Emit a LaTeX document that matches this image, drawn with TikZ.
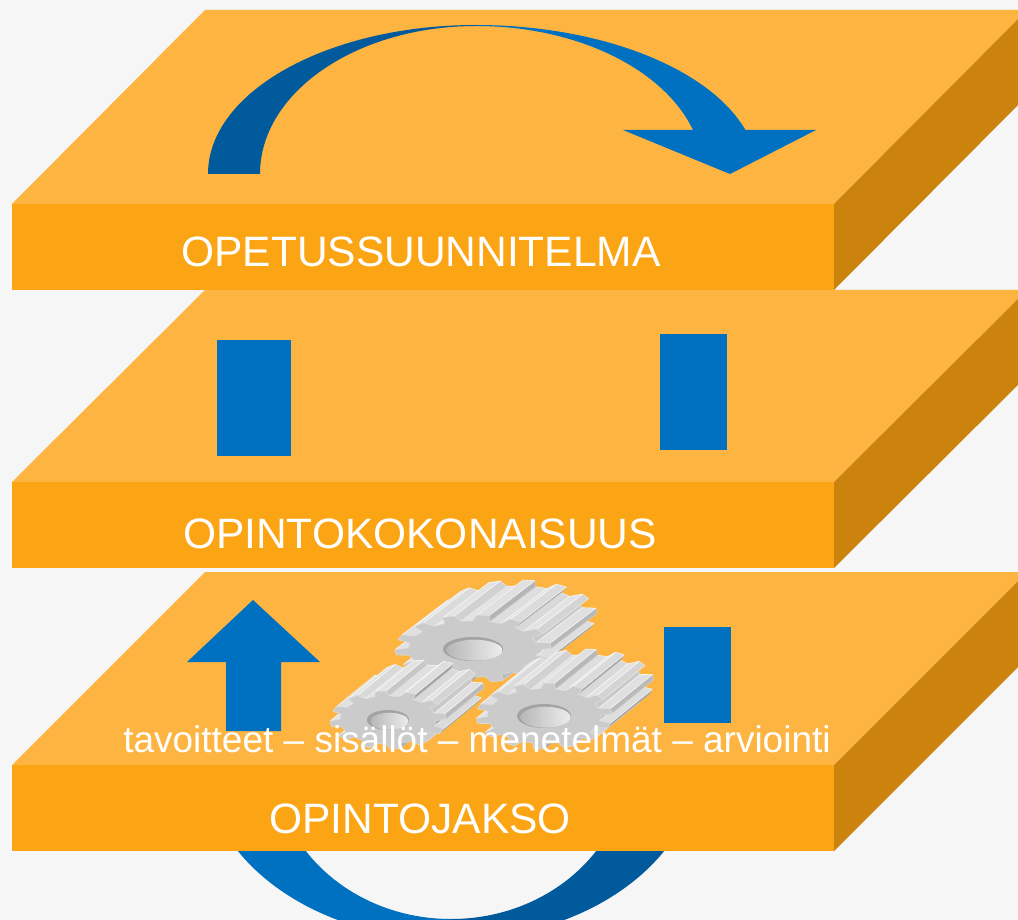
\documentclass[tikz,border=0pt]{standalone}
\usepackage{fontspec}
\setmainfont{Liberation Sans}
\definecolor{bg}{HTML}{F6F6F6}
\definecolor{slabtop}{HTML}{FDB441}
\definecolor{slabfront}{HTML}{FBA414}
\definecolor{slabside}{HTML}{CB830E}
\definecolor{blueA}{HTML}{0070C0}
\definecolor{blueB}{HTML}{005A9C}
\definecolor{gearfront}{HTML}{CBCBCB}
\tikzset{
  slabtext/.style={text=white, font=\fontsize{42.5}{48}\selectfont, inner sep=0pt, anchor=base},
  smalltext/.style={text=white, font=\fontsize{37}{44}\selectfont, inner sep=0pt, anchor=base},
}
% one slab: #1 = y of back edge of top face, #2 = y of top of front face
\newcommand{\slabbox}[2]{%
  \fill[slabtop] (12,#2) -- (205,#1) -- (1027,#1) -- (834,#2) -- cycle;
  \fill[slabfront] (12,#2) rectangle (834,{#2+86});
  \fill[slabside] (834,#2) -- (1027,#1) -- (1027,{#1+86}) -- (834,{#2+86}) -- cycle;
}
% one extruded side face of a gear
\newcommand{\gface}[4]{%
  \pgfmathsetmacro\gPx{\gcx+\grx*(#2)*cos(#1)}%
  \pgfmathsetmacro\gPy{\gcy-\gry*(#2)*sin(#1)}%
  \pgfmathsetmacro\gQx{\gcx+\grx*(#4)*cos(#3)}%
  \pgfmathsetmacro\gQy{\gcy-\gry*(#4)*sin(#3)}%
  \pgfmathsetmacro\gex{\gQx-\gPx}%
  \pgfmathsetmacro\gey{\gQy-\gPy}%
  \pgfmathsetmacro\gdot{-\gey*\gdx+\gex*\gdy}%
  \pgfmathsetmacro\gshade{(0.371*\gey-0.928*\gex)/max(0.001,sqrt(\gex*\gex+\gey*\gey))}%
  \pgfmathtruncatemacro\gg{75+15*\gshade}%
  \pgfmathtruncatemacro\gh{min(97,\gg+8)}%
  \ifdim\gdot pt>0pt
    \filldraw[fill=white!\gg!black, draw=white!\gh!black, line width=0.6pt, line join=round]
      (\gPx,\gPy) -- (\gQx,\gQy) -- ++(\gdx,\gdy) -- ++({\gPx-\gQx},{\gPy-\gQy}) -- cycle;
  \fi
}
\newcommand{\gtooth}[1]{%
  \gface{#1-\gwa}{\gra}{#1-\gwb}{1}%
  \gface{#1-\gwb}{1}{#1+\gwb}{1}%
  \gface{#1+\gwb}{1}{#1+\gwa}{\gra}%
}
% cx cy rx ry dx dy teeth hubrx hubry
\newcommand{\drawgear}[9]{%
  \def\gcx{#1}\def\gcy{#2}\def\grx{#3}\def\gry{#4}\def\gdx{#5}\def\gdy{#6}%
  \pgfmathsetmacro\gp{360/#7}%
  \pgfmathsetmacro\gwa{0.29*\gp}%
  \pgfmathsetmacro\gwb{0.17*\gp}%
  \pgfmathsetmacro\gphi{atan2(-(#4)*(#6),(#3)*(#5))}%
  \def\gra{0.83}%
  \pgfmathtruncatemacro\gTm{#7-1}%
  \pgfmathtruncatemacro\gH{#7/2-1}%
  \foreach \k in {0,...,\gTm}{%
    \pgfmathsetmacro\ga{\gphi+180+(\k+0.5)*\gp}%
    \gface{\ga+\gwa}{\gra}{\ga+\gp-\gwa}{\gra}%
  }%
  \foreach \j in {0,...,\gH}{%
    \pgfmathsetmacro\ga{\gphi+180+(\j+0.5)*\gp}%
    \gtooth{\ga}%
    \pgfmathsetmacro\ga{\gphi+180+(#7-\j-0.5)*\gp}%
    \gtooth{\ga}%
  }%
  \filldraw[fill=gearfront, draw=white!86!black, line width=0.6pt, line join=round]
    ({\gcx+\grx*\gra*cos(\gphi+180+0.5*\gp-\gwa)},{\gcy-\gry*\gra*sin(\gphi+180+0.5*\gp-\gwa)})
    \foreach \k in {0,...,\gTm}{
      -- ({\gcx+\grx*\gra*cos(\gphi+180+(\k+0.5)*\gp-\gwa)},{\gcy-\gry*\gra*sin(\gphi+180+(\k+0.5)*\gp-\gwa)})
      -- ({\gcx+\grx*cos(\gphi+180+(\k+0.5)*\gp-\gwb)},{\gcy-\gry*sin(\gphi+180+(\k+0.5)*\gp-\gwb)})
      -- ({\gcx+\grx*cos(\gphi+180+(\k+0.5)*\gp+\gwb)},{\gcy-\gry*sin(\gphi+180+(\k+0.5)*\gp+\gwb)})
      -- ({\gcx+\grx*\gra*cos(\gphi+180+(\k+0.5)*\gp+\gwa)},{\gcy-\gry*\gra*sin(\gphi+180+(\k+0.5)*\gp+\gwa)})
    } -- cycle;
  \fill[white!64!black] (\gcx,\gcy) ellipse [x radius=#8, y radius=#9];
  \shade[left color=white!72!black, right color=white!93!black]
    ({\gcx+1.5},{\gcy+1.2}) ellipse [x radius={#8-2}, y radius={#9-1.5}];
}
\begin{document}
\begin{tikzpicture}[x=1pt,y=-1pt]
\useasboundingbox (0,0) rectangle (1018,920);
\clip (0,0) rectangle (1018,920);
\fill[bg] (0,0) rectangle (1018,920);

% lower cycle arrow (behind the bottom slab)
\fill[blueA] (204,760) arc[start angle=180, end angle=90, x radius=247, y radius=180]
  -- (451,919) arc[start angle=90, end angle=180, x radius=177, y radius=159] -- cycle;
\fill[blueB] (451,940) arc[start angle=90, end angle=0, x radius=247, y radius=180]
  -- (628,760) arc[start angle=0, end angle=90, x radius=177, y radius=159] -- cycle;

% slabs
\slabbox{572}{765}
\slabbox{290}{482}
\slabbox{10}{204}

% top curved arrow
\fill[blueB] (208,174) arc[start angle=180, end angle=270, x radius=268, y radius=149]
  -- (476,26) arc[start angle=270, end angle=180, x radius=216, y radius=148] -- cycle;
\fill[blueA] (476,25) arc[start angle=270, end angle=342.8, x radius=282, y radius=149]
  -- (816,130) -- (730,174) -- (623,130) -- (693,130)
  arc[start angle=342.7, end angle=270, x radius=227, y radius=148] -- cycle;

% middle slab bars
\fill[blueA] (217,340) rectangle (291,456);
\fill[blueA] (660,334) rectangle (727,450);

% bottom slab: up arrow and bar
\fill[blueA] (253,600) -- (320,662) -- (281,662) -- (281,731) -- (226,731) -- (226,662) -- (187,662) -- cycle;
\fill[blueA] (664,627) rectangle (731,723);

% gears
\drawgear{473}{649}{78}{34}{46}{-35}{14}{30}{12}
\drawgear{388}{720}{58}{29}{38}{-31}{12}{21}{10}
\drawgear{544}{716}{68}{33}{42}{-34}{14}{27}{12}

% texts
\node[slabtext] (t1) at (421,267) {OPETUSSUUNNITELMA};
\node[slabtext] (t2) at (420,548) {OPINTOKOKONAISUUS};
\node[slabtext] (t3) at (420,833) {OPINTOJAKSO};
\node[smalltext] (t4) at (477,752) {tavoitteet – sisällöt – menetelmät – arviointi};
\end{tikzpicture}
\end{document}
